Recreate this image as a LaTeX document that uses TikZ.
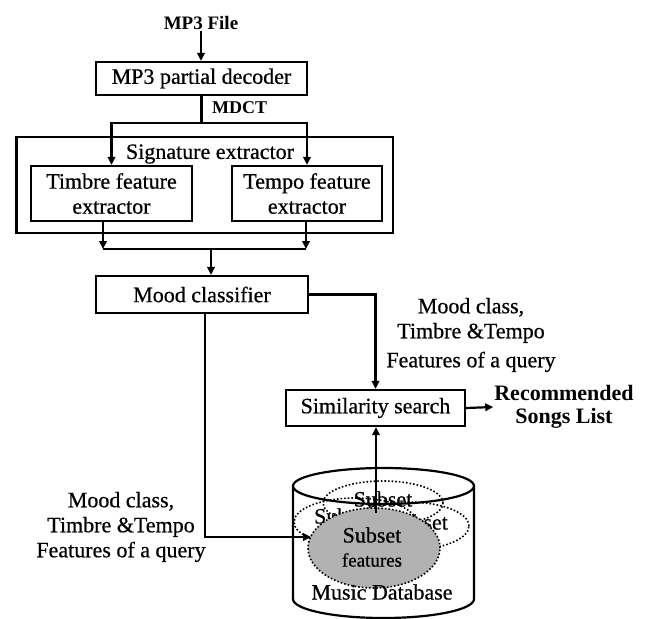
\documentclass[tikz,border=0pt]{standalone}
\usepackage{fontspec}
\setmainfont{Liberation Serif}[UprightFeatures={FakeBold=0.6}]
\usetikzlibrary{arrows.meta,shapes.geometric}
\begin{document}
\begin{tikzpicture}[x=1pt,y=-1pt,
  line width=2.2pt,
  arr/.style={-{Triangle[length=8pt,width=7.5pt]}},
  box/.style={draw, rectangle, inner sep=0pt, align=center, font=\fontsize{22}{25}\selectfont},
  lbl/.style={inner sep=0pt, align=center, font=\fontsize{22}{25}\selectfont},
  blbl/.style={inner sep=0pt, align=center, font=\bfseries\fontsize{22}{23}\selectfont},
  dotell/.style={draw, dotted, line width=1.6pt},
]
\useasboundingbox (0,0) rectangle (649,619);

% top chain
\node[inner sep=0pt, font=\bfseries\fontsize{19}{21}\selectfont] (file) at (201,23) {MP3 File};
\node[box, minimum width=211pt, minimum height=33pt] (mp3) at (201.5,78.5) {MP3 partial decoder};
\node[inner sep=0pt, anchor=west, font=\bfseries\fontsize{18}{20}\selectfont] (mdct) at (211,108) {MDCT};

% signature extractor
\node[draw, rectangle, minimum width=376.5pt, minimum height=96pt, inner sep=0pt] (sig) at (204.75,185) {};
\node[lbl] (sigtxt) at (210,154) {Signature extractor};
\node[box, minimum width=161pt, minimum height=55pt] (timbre) at (111.5,193.5) {Timbre feature\\extractor};
\node[box, minimum width=150pt, minimum height=55pt] (tempo) at (307,193.5) {Tempo feature\\extractor};

\coordinate (split) at (201.5,123);
\draw (mp3.south) -- (split);
\draw[arr] (split) -| (timbre.north);
\draw[arr] (split) -| (tempo.north);

% mood classifier
\node[box, minimum width=212pt, minimum height=37pt] (mood) at (202,294.5) {Mood classifier};
\coordinate (jl) at (103,249);
\coordinate (jr) at (306,249);
\coordinate (jm) at (211,249);
\draw[arr] ([xshift=-8.5pt]timbre.south) -- (jl);
\draw[arr] ([xshift=-1pt]tempo.south) -- (jr);
\draw (jl) -- (jr);
\draw[arr] (jm) -- (jm |- mood.north);

% similarity search
\node[box, minimum width=179pt, minimum height=36pt] (sim) at (375.5,408) {Similarity search};
\draw[arr] (mood.east) -| (sim.north);
\node[lbl] (qlabel1) at (471,335) {Mood class,\\Timbre \&Tempo\\[4pt]Features of a query};
\node[blbl] (rec) at (564,407) {Recommended\\Songs List};
\draw[arr] (sim.east) -- (rec.west);

% database cylinder
\draw (383.5,486) ellipse [x radius=90.5pt, y radius=18pt];
\draw (293,486) -- (293,599) arc [start angle=180, end angle=360, x radius=90.5pt, y radius=19pt] -- (474,486);
\node[dotell, ellipse, minimum width=120pt, minimum height=44pt, inner sep=0pt] (e1) at (383,503) {};
\node[dotell, ellipse, minimum width=122pt, minimum height=48pt, inner sep=0pt] (e2) at (355,522) {};
\node[dotell, ellipse, minimum width=122pt, minimum height=48pt, inner sep=0pt] (e3) at (408,526) {};
\node[lbl] (s1) at (383,499) {Subset};
\node[lbl, anchor=west] (s2) at (313,516) {Subset};
\node[lbl, anchor=east] (s3) at (449,522) {Subset};
\node[draw, dotted, line width=1.6pt, fill=black!30, ellipse, minimum width=132pt, minimum height=80pt, inner sep=0pt] (sub) at (374,548) {};
\node[lbl] (subtxt) at (372,535) {Subset};
\node[inner sep=0pt, font=\fontsize{19}{21}\selectfont] (feat) at (372,560) {features};
\node[lbl] (db) at (382,592) {Music Database};
\coordinate (dbout) at (376,513);
\draw[arr] (dbout) -- (dbout |- sim.south);

% query into database
\node[lbl] (qlabel2) at (121,527) {Mood class,\\Timbre \&Tempo\\Features of a query};
\coordinate (qin) at (311,537);
\draw[arr] ([xshift=3pt]mood.south) |- (qin);
\draw[arr] (file.south) -- (file.south |- mp3.north);
\end{tikzpicture}
\end{document}
